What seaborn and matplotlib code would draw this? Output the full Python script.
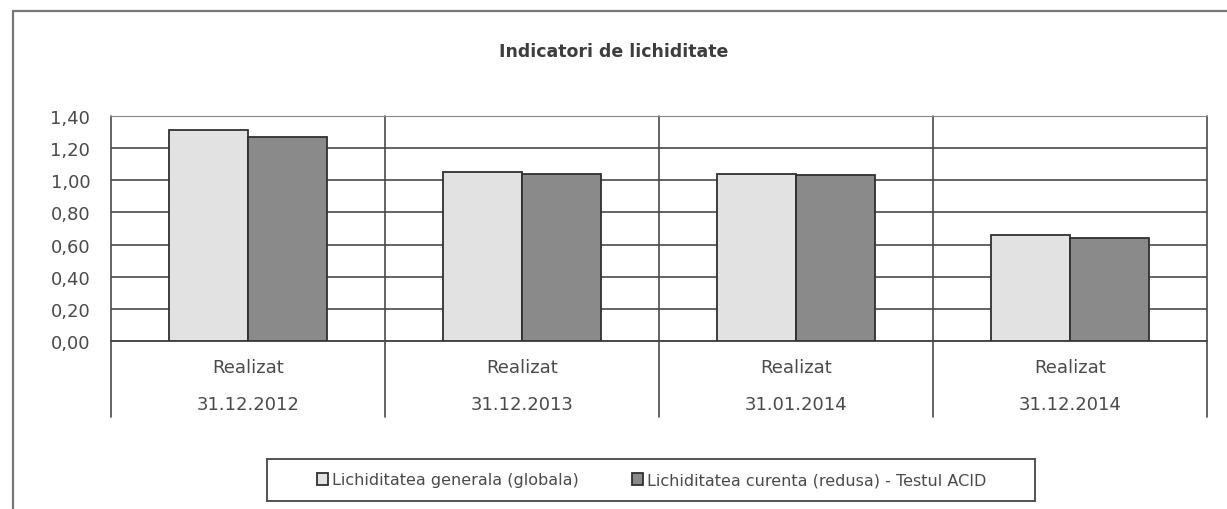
# Indicatori de lichiditate - bar chart (scan recreation)
import pandas as pd
import numpy as np
import matplotlib.pyplot as plt
import seaborn as sns
from matplotlib.lines import Line2D
from matplotlib.patches import Rectangle
from matplotlib.ticker import FuncFormatter

sns.set_style("white")
plt.rcParams["font.family"] = ["DejaVu Sans"]

# ============================================
# data
# ============================================
perioade = ["31.12.2012", "31.12.2013", "31.01.2014", "31.12.2014"]
eticheta_sus = "Realizat"
serii = ["Lichiditatea generala (globala)", "Lichiditatea curenta (redusa) - Testul ACID"]
lichiditate_generala = [1.31, 1.05, 1.04, 0.66]
lichiditate_curenta = [1.27, 1.04, 1.03, 0.64]
y_ticks = [0.0, 0.2, 0.4, 0.6, 0.8, 1.0, 1.2, 1.4]

df = pd.DataFrame({
    "perioada": perioade * 2,
    "valoare": lichiditate_generala + lichiditate_curenta,
    "indicator": [serii[0]] * 4 + [serii[1]] * 4,
})

text_col = "#4a4a4a"
line_col = "#4a4a4a"

# ============================================
# figure + axes placed like the scan
# ============================================
fig = plt.figure(figsize=(12.27, 5.10), dpi=100)
ax = fig.add_axes([111 / 1227, 168 / 510, 1096 / 1227, 225 / 510])

sns.barplot(data=df, x="perioada", y="valoare", hue="indicator",
            palette=["#e2e2e2", "#8a8a8a"], width=0.58,
            edgecolor="#303030", linewidth=1.3, ax=ax, zorder=3)

ax.set_xlim(-0.5, 3.5)
ax.set_ylim(0, 1.4)
ax.set_yticks(y_ticks)
ax.yaxis.set_major_formatter(FuncFormatter(lambda v, p: f"{v:.2f}".replace(".", ",")))
ax.tick_params(axis="y", length=6, width=1.2, color=line_col, pad=9,
               labelsize=13, labelcolor=text_col)
ax.tick_params(axis="x", length=0, labelbottom=False)
ax.set_xlabel("")
ax.set_ylabel("")

# horizontal gridlines
ax.set_axisbelow(True)
ax.grid(axis="y", color=line_col, linewidth=1.2)
ax.grid(axis="x", visible=False)
for s in ["left", "right"]:
    ax.spines[s].set_visible(False)
ax.spines["top"].set_color("#888888")
ax.spines["top"].set_linestyle((0, (4, 1)))
ax.spines["bottom"].set_color(line_col)
ax.spines["bottom"].set_linewidth(1.4)

# category separators running down through the label area
for xv in np.arange(-0.5, len(perioade), 1.0):
    ax.axvline(xv, ymin=-0.338, ymax=1, color=line_col, linewidth=1.2, clip_on=False)

# two-level category labels
trans = ax.get_xaxis_transform()
for i, p in enumerate(perioade):
    ax.text(i, -0.115, eticheta_sus, transform=trans, ha="center", va="center",
            fontsize=13, color=text_col)
    ax.text(i, -0.28, p, transform=trans, ha="center", va="center",
            fontsize=13, color=text_col)

# ============================================
# title + legend
# ============================================
fig.text(614 / 1227, 1 - 52 / 510, "Indicatori de lichiditate", ha="center",
         va="center", fontsize=12.5, fontweight="bold", color="#3d3d3d")

handles, labels = ax.get_legend_handles_labels()
ax.legend(handles, labels, loc="center left", bbox_to_anchor=(317 / 1227, 1 - 481 / 510),
          bbox_transform=fig.transFigure, ncol=2, frameon=False, fontsize=11.5,
          handlelength=0.7, handleheight=0.7, handletextpad=0.25, columnspacing=3.3,
          borderpad=0, borderaxespad=0, labelcolor=text_col)
fig.add_artist(Rectangle((267 / 1227, 8 / 510), 768 / 1227, 42 / 510,
                         transform=fig.transFigure, fill=False,
                         edgecolor="#444444", linewidth=1.3))

# outer chart border (left + top edge visible in the scan)
fig.add_artist(Line2D([13 / 1227, 13 / 1227], [0, 1 - 12 / 510],
                      transform=fig.transFigure, color="#777777", linewidth=1.6))
fig.add_artist(Line2D([13 / 1227, 1], [1 - 12 / 510, 1 - 12 / 510],
                      transform=fig.transFigure, color="#777777", linewidth=1.6))

fig.savefig("out.png", dpi=100)
